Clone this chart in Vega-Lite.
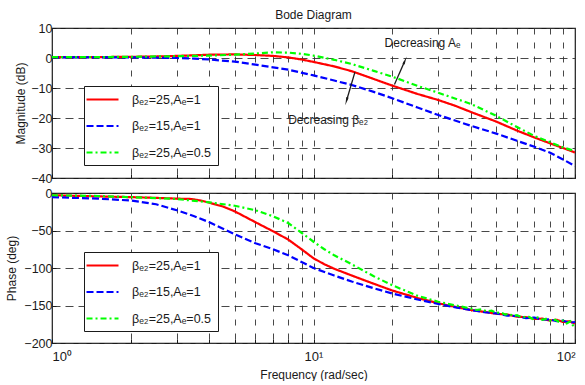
{
  "$schema": "https://vega.github.io/schema/vega-lite/v6.json",
  "padding": {"left": 5, "top": 8, "right": 3, "bottom": 0},
  "background": "white",
  "spacing": 0,
  "config": {
    "font": "Liberation Sans",
    "view": {"stroke": "#1a1a1a", "strokeWidth": 1.2},
    "axis": {"labelFont": "Liberation Sans", "labelFontSize": 12.5, "labelColor": "#1a1a1a", "titleFont": "Liberation Sans", "titleFontSize": 12, "titleFontWeight": "normal", "titleColor": "#1a1a1a", "domain": false, "gridColor": "#333333", "gridWidth": 0.9, "tickColor": "#1a1a1a", "tickSize": -4, "labelPadding": 4, "labelOverlap": false},
    "axisX": {"gridDash": [6, 8]},
    "axisY": {"gridDash": [8, 5]},
    "legend": {"orient": "none", "strokeColor": "#1a1a1a", "fillColor": "white", "padding": 6, "labelFont": "Liberation Sans", "labelFontSize": 12.5, "labelColor": "#1a1a1a", "symbolType": "M-1.83,0H3.5", "symbolSize": 144, "symbolStrokeWidth": 2.2, "labelOffset": 27, "rowPadding": 12.5}
  },
  "datasets": {
    "mag": [
      {"f": 1, "db": 0.3, "s": "βₑ₂=25,Aₑ=1"}, {"f": 1.5, "db": 0.3, "s": "βₑ₂=25,Aₑ=1"}, {"f": 2, "db": 0.4, "s": "βₑ₂=25,Aₑ=1"}, {"f": 2.5, "db": 0.5, "s": "βₑ₂=25,Aₑ=1"}, {"f": 3, "db": 0.7, "s": "βₑ₂=25,Aₑ=1"}, {"f": 3.5, "db": 0.9, "s": "βₑ₂=25,Aₑ=1"}, {"f": 4, "db": 1.1, "s": "βₑ₂=25,Aₑ=1"}, {"f": 5, "db": 1.2, "s": "βₑ₂=25,Aₑ=1"}, {"f": 6, "db": 1.0, "s": "βₑ₂=25,Aₑ=1"}, {"f": 7, "db": 0.7, "s": "βₑ₂=25,Aₑ=1"}, {"f": 8, "db": 0.2, "s": "βₑ₂=25,Aₑ=1"}, {"f": 9, "db": -0.5, "s": "βₑ₂=25,Aₑ=1"}, {"f": 10, "db": -1.3, "s": "βₑ₂=25,Aₑ=1"}, {"f": 12, "db": -2.8, "s": "βₑ₂=25,Aₑ=1"}, {"f": 14, "db": -4.4, "s": "βₑ₂=25,Aₑ=1"}, {"f": 17, "db": -7, "s": "βₑ₂=25,Aₑ=1"}, {"f": 20, "db": -9.2, "s": "βₑ₂=25,Aₑ=1"}, {"f": 25, "db": -12, "s": "βₑ₂=25,Aₑ=1"}, {"f": 30, "db": -14, "s": "βₑ₂=25,Aₑ=1"}, {"f": 35, "db": -16, "s": "βₑ₂=25,Aₑ=1"}, {"f": 40, "db": -18, "s": "βₑ₂=25,Aₑ=1"}, {"f": 50, "db": -21.2, "s": "βₑ₂=25,Aₑ=1"}, {"f": 60, "db": -24.2, "s": "βₑ₂=25,Aₑ=1"}, {"f": 70, "db": -26.5, "s": "βₑ₂=25,Aₑ=1"}, {"f": 80, "db": -28.4, "s": "βₑ₂=25,Aₑ=1"}, {"f": 90, "db": -30, "s": "βₑ₂=25,Aₑ=1"}, {"f": 100, "db": -31.5, "s": "βₑ₂=25,Aₑ=1"},
      {"f": 1, "db": 0.2, "s": "βₑ₂=15,Aₑ=1"}, {"f": 1.5, "db": 0.2, "s": "βₑ₂=15,Aₑ=1"}, {"f": 2, "db": 0.2, "s": "βₑ₂=15,Aₑ=1"}, {"f": 2.5, "db": 0.1, "s": "βₑ₂=15,Aₑ=1"}, {"f": 3, "db": 0, "s": "βₑ₂=15,Aₑ=1"}, {"f": 3.5, "db": -0.2, "s": "βₑ₂=15,Aₑ=1"}, {"f": 4, "db": -0.5, "s": "βₑ₂=15,Aₑ=1"}, {"f": 5, "db": -1.2, "s": "βₑ₂=15,Aₑ=1"}, {"f": 6, "db": -2.2, "s": "βₑ₂=15,Aₑ=1"}, {"f": 7, "db": -3.1, "s": "βₑ₂=15,Aₑ=1"}, {"f": 8, "db": -3.9, "s": "βₑ₂=15,Aₑ=1"}, {"f": 10, "db": -5.8, "s": "βₑ₂=15,Aₑ=1"}, {"f": 12, "db": -7.5, "s": "βₑ₂=15,Aₑ=1"}, {"f": 14, "db": -9, "s": "βₑ₂=15,Aₑ=1"}, {"f": 17, "db": -11.3, "s": "βₑ₂=15,Aₑ=1"}, {"f": 20, "db": -13.4, "s": "βₑ₂=15,Aₑ=1"}, {"f": 25, "db": -16.5, "s": "βₑ₂=15,Aₑ=1"}, {"f": 30, "db": -19, "s": "βₑ₂=15,Aₑ=1"}, {"f": 40, "db": -22.6, "s": "βₑ₂=15,Aₑ=1"}, {"f": 50, "db": -25.2, "s": "βₑ₂=15,Aₑ=1"}, {"f": 60, "db": -27.6, "s": "βₑ₂=15,Aₑ=1"}, {"f": 70, "db": -29.6, "s": "βₑ₂=15,Aₑ=1"}, {"f": 80, "db": -31.5, "s": "βₑ₂=15,Aₑ=1"}, {"f": 90, "db": -33.8, "s": "βₑ₂=15,Aₑ=1"}, {"f": 100, "db": -36, "s": "βₑ₂=15,Aₑ=1"},
      {"f": 1, "db": 0.3, "s": "βₑ₂=25,Aₑ=0.5"}, {"f": 1.5, "db": 0.3, "s": "βₑ₂=25,Aₑ=0.5"}, {"f": 2, "db": 0.4, "s": "βₑ₂=25,Aₑ=0.5"}, {"f": 3, "db": 0.6, "s": "βₑ₂=25,Aₑ=0.5"}, {"f": 4, "db": 0.8, "s": "βₑ₂=25,Aₑ=0.5"}, {"f": 5, "db": 1.1, "s": "βₑ₂=25,Aₑ=0.5"}, {"f": 6, "db": 1.5, "s": "βₑ₂=25,Aₑ=0.5"}, {"f": 7, "db": 1.9, "s": "βₑ₂=25,Aₑ=0.5"}, {"f": 8, "db": 1.8, "s": "βₑ₂=25,Aₑ=0.5"}, {"f": 9, "db": 1.4, "s": "βₑ₂=25,Aₑ=0.5"}, {"f": 10, "db": 0.8, "s": "βₑ₂=25,Aₑ=0.5"}, {"f": 12, "db": -0.6, "s": "βₑ₂=25,Aₑ=0.5"}, {"f": 14, "db": -2, "s": "βₑ₂=25,Aₑ=0.5"}, {"f": 17, "db": -4.3, "s": "βₑ₂=25,Aₑ=0.5"}, {"f": 20, "db": -6.2, "s": "βₑ₂=25,Aₑ=0.5"}, {"f": 25, "db": -9.3, "s": "βₑ₂=25,Aₑ=0.5"}, {"f": 30, "db": -11.6, "s": "βₑ₂=25,Aₑ=0.5"}, {"f": 40, "db": -15.3, "s": "βₑ₂=25,Aₑ=0.5"}, {"f": 50, "db": -19.3, "s": "βₑ₂=25,Aₑ=0.5"}, {"f": 60, "db": -23, "s": "βₑ₂=25,Aₑ=0.5"}, {"f": 70, "db": -26, "s": "βₑ₂=25,Aₑ=0.5"}, {"f": 80, "db": -28, "s": "βₑ₂=25,Aₑ=0.5"}, {"f": 90, "db": -29.8, "s": "βₑ₂=25,Aₑ=0.5"}, {"f": 100, "db": -31, "s": "βₑ₂=25,Aₑ=0.5"}
    ],
    "phase": [
      {"f": 1, "deg": -3, "s": "βₑ₂=25,Aₑ=1"}, {"f": 1.5, "deg": -4.5, "s": "βₑ₂=25,Aₑ=1"}, {"f": 2, "deg": -5.5, "s": "βₑ₂=25,Aₑ=1"}, {"f": 2.5, "deg": -6.5, "s": "βₑ₂=25,Aₑ=1"}, {"f": 3, "deg": -7.5, "s": "βₑ₂=25,Aₑ=1"}, {"f": 3.4, "deg": -8, "s": "βₑ₂=25,Aₑ=1"}, {"f": 3.7, "deg": -10, "s": "βₑ₂=25,Aₑ=1"}, {"f": 4, "deg": -13, "s": "βₑ₂=25,Aₑ=1"}, {"f": 4.5, "deg": -18, "s": "βₑ₂=25,Aₑ=1"}, {"f": 5, "deg": -24.5, "s": "βₑ₂=25,Aₑ=1"}, {"f": 6, "deg": -39, "s": "βₑ₂=25,Aₑ=1"}, {"f": 7, "deg": -51, "s": "βₑ₂=25,Aₑ=1"}, {"f": 8, "deg": -62, "s": "βₑ₂=25,Aₑ=1"}, {"f": 9, "deg": -75, "s": "βₑ₂=25,Aₑ=1"}, {"f": 10, "deg": -87, "s": "βₑ₂=25,Aₑ=1"}, {"f": 11, "deg": -95, "s": "βₑ₂=25,Aₑ=1"}, {"f": 12, "deg": -101, "s": "βₑ₂=25,Aₑ=1"}, {"f": 14, "deg": -110, "s": "βₑ₂=25,Aₑ=1"}, {"f": 17, "deg": -121, "s": "βₑ₂=25,Aₑ=1"}, {"f": 20, "deg": -130, "s": "βₑ₂=25,Aₑ=1"}, {"f": 25, "deg": -140, "s": "βₑ₂=25,Aₑ=1"}, {"f": 30, "deg": -147, "s": "βₑ₂=25,Aₑ=1"}, {"f": 35, "deg": -152, "s": "βₑ₂=25,Aₑ=1"}, {"f": 40, "deg": -156, "s": "βₑ₂=25,Aₑ=1"}, {"f": 45, "deg": -158.5, "s": "βₑ₂=25,Aₑ=1"}, {"f": 50, "deg": -161, "s": "βₑ₂=25,Aₑ=1"}, {"f": 55, "deg": -162, "s": "βₑ₂=25,Aₑ=1"}, {"f": 60, "deg": -165, "s": "βₑ₂=25,Aₑ=1"}, {"f": 65, "deg": -165.5, "s": "βₑ₂=25,Aₑ=1"}, {"f": 70, "deg": -168, "s": "βₑ₂=25,Aₑ=1"}, {"f": 75, "deg": -167.5, "s": "βₑ₂=25,Aₑ=1"}, {"f": 80, "deg": -170, "s": "βₑ₂=25,Aₑ=1"}, {"f": 85, "deg": -169, "s": "βₑ₂=25,Aₑ=1"}, {"f": 90, "deg": -172, "s": "βₑ₂=25,Aₑ=1"}, {"f": 95, "deg": -171, "s": "βₑ₂=25,Aₑ=1"}, {"f": 100, "deg": -174, "s": "βₑ₂=25,Aₑ=1"},
      {"f": 1, "deg": -5.5, "s": "βₑ₂=15,Aₑ=1"}, {"f": 1.5, "deg": -7.5, "s": "βₑ₂=15,Aₑ=1"}, {"f": 2, "deg": -10, "s": "βₑ₂=15,Aₑ=1"}, {"f": 2.5, "deg": -15, "s": "βₑ₂=15,Aₑ=1"}, {"f": 3, "deg": -23, "s": "βₑ₂=15,Aₑ=1"}, {"f": 3.5, "deg": -31, "s": "βₑ₂=15,Aₑ=1"}, {"f": 4, "deg": -39, "s": "βₑ₂=15,Aₑ=1"}, {"f": 5, "deg": -55, "s": "βₑ₂=15,Aₑ=1"}, {"f": 6, "deg": -67, "s": "βₑ₂=15,Aₑ=1"}, {"f": 7, "deg": -75, "s": "βₑ₂=15,Aₑ=1"}, {"f": 8, "deg": -83, "s": "βₑ₂=15,Aₑ=1"}, {"f": 9, "deg": -92, "s": "βₑ₂=15,Aₑ=1"}, {"f": 10, "deg": -100, "s": "βₑ₂=15,Aₑ=1"}, {"f": 12, "deg": -110, "s": "βₑ₂=15,Aₑ=1"}, {"f": 14, "deg": -118, "s": "βₑ₂=15,Aₑ=1"}, {"f": 17, "deg": -127, "s": "βₑ₂=15,Aₑ=1"}, {"f": 20, "deg": -134, "s": "βₑ₂=15,Aₑ=1"}, {"f": 25, "deg": -142, "s": "βₑ₂=15,Aₑ=1"}, {"f": 30, "deg": -148, "s": "βₑ₂=15,Aₑ=1"}, {"f": 35, "deg": -152.5, "s": "βₑ₂=15,Aₑ=1"}, {"f": 40, "deg": -156, "s": "βₑ₂=15,Aₑ=1"}, {"f": 45, "deg": -159, "s": "βₑ₂=15,Aₑ=1"}, {"f": 50, "deg": -160.5, "s": "βₑ₂=15,Aₑ=1"}, {"f": 55, "deg": -163.5, "s": "βₑ₂=15,Aₑ=1"}, {"f": 60, "deg": -164, "s": "βₑ₂=15,Aₑ=1"}, {"f": 65, "deg": -167, "s": "βₑ₂=15,Aₑ=1"}, {"f": 70, "deg": -166, "s": "βₑ₂=15,Aₑ=1"}, {"f": 75, "deg": -169, "s": "βₑ₂=15,Aₑ=1"}, {"f": 80, "deg": -168.5, "s": "βₑ₂=15,Aₑ=1"}, {"f": 85, "deg": -171, "s": "βₑ₂=15,Aₑ=1"}, {"f": 90, "deg": -170, "s": "βₑ₂=15,Aₑ=1"}, {"f": 95, "deg": -173, "s": "βₑ₂=15,Aₑ=1"}, {"f": 100, "deg": -172, "s": "βₑ₂=15,Aₑ=1"},
      {"f": 1, "deg": -3, "s": "βₑ₂=25,Aₑ=0.5"}, {"f": 1.5, "deg": -4, "s": "βₑ₂=25,Aₑ=0.5"}, {"f": 2, "deg": -5.5, "s": "βₑ₂=25,Aₑ=0.5"}, {"f": 3, "deg": -8, "s": "βₑ₂=25,Aₑ=0.5"}, {"f": 4, "deg": -12.5, "s": "βₑ₂=25,Aₑ=0.5"}, {"f": 5, "deg": -17, "s": "βₑ₂=25,Aₑ=0.5"}, {"f": 6, "deg": -23, "s": "βₑ₂=25,Aₑ=0.5"}, {"f": 7, "deg": -31, "s": "βₑ₂=25,Aₑ=0.5"}, {"f": 8, "deg": -40, "s": "βₑ₂=25,Aₑ=0.5"}, {"f": 9, "deg": -53, "s": "βₑ₂=25,Aₑ=0.5"}, {"f": 10, "deg": -65, "s": "βₑ₂=25,Aₑ=0.5"}, {"f": 11, "deg": -75, "s": "βₑ₂=25,Aₑ=0.5"}, {"f": 12, "deg": -83, "s": "βₑ₂=25,Aₑ=0.5"}, {"f": 14, "deg": -95, "s": "βₑ₂=25,Aₑ=0.5"}, {"f": 17, "deg": -111, "s": "βₑ₂=25,Aₑ=0.5"}, {"f": 20, "deg": -123, "s": "βₑ₂=25,Aₑ=0.5"}, {"f": 25, "deg": -137, "s": "βₑ₂=25,Aₑ=0.5"}, {"f": 30, "deg": -145, "s": "βₑ₂=25,Aₑ=0.5"}, {"f": 35, "deg": -150, "s": "βₑ₂=25,Aₑ=0.5"}, {"f": 40, "deg": -154, "s": "βₑ₂=25,Aₑ=0.5"}, {"f": 42, "deg": -156, "s": "βₑ₂=25,Aₑ=0.5"}, {"f": 44, "deg": -155, "s": "βₑ₂=25,Aₑ=0.5"}, {"f": 46, "deg": -158, "s": "βₑ₂=25,Aₑ=0.5"}, {"f": 48, "deg": -157, "s": "βₑ₂=25,Aₑ=0.5"}, {"f": 50, "deg": -160, "s": "βₑ₂=25,Aₑ=0.5"}, {"f": 52, "deg": -159, "s": "βₑ₂=25,Aₑ=0.5"}, {"f": 54, "deg": -162, "s": "βₑ₂=25,Aₑ=0.5"}, {"f": 56, "deg": -161, "s": "βₑ₂=25,Aₑ=0.5"}, {"f": 58, "deg": -164, "s": "βₑ₂=25,Aₑ=0.5"}, {"f": 60, "deg": -163, "s": "βₑ₂=25,Aₑ=0.5"}, {"f": 63, "deg": -166, "s": "βₑ₂=25,Aₑ=0.5"}, {"f": 66, "deg": -164.5, "s": "βₑ₂=25,Aₑ=0.5"}, {"f": 69, "deg": -168, "s": "βₑ₂=25,Aₑ=0.5"}, {"f": 72, "deg": -166, "s": "βₑ₂=25,Aₑ=0.5"}, {"f": 75, "deg": -169, "s": "βₑ₂=25,Aₑ=0.5"}, {"f": 78, "deg": -167.5, "s": "βₑ₂=25,Aₑ=0.5"}, {"f": 81, "deg": -171, "s": "βₑ₂=25,Aₑ=0.5"}, {"f": 84, "deg": -169, "s": "βₑ₂=25,Aₑ=0.5"}, {"f": 87, "deg": -172, "s": "βₑ₂=25,Aₑ=0.5"}, {"f": 90, "deg": -170, "s": "βₑ₂=25,Aₑ=0.5"}, {"f": 93, "deg": -174, "s": "βₑ₂=25,Aₑ=0.5"}, {"f": 96, "deg": -171, "s": "βₑ₂=25,Aₑ=0.5"}, {"f": 98, "deg": -176, "s": "βₑ₂=25,Aₑ=0.5"}, {"f": 100, "deg": -179, "s": "βₑ₂=25,Aₑ=0.5"}
    ],
    "notes": [
      {"f": 18.7, "db": 5, "label": "Decreasing Aₑ"},
      {"f": 8.0, "db": -20.6, "label": "Decreasing βₑ₂"}
    ],
    "arrows": [
      {"id": "b", "f": 14.4, "db": -4.7, "f2": 13.4, "db2": -14.0},
      {"id": "a", "f": 20.4, "db": -8.8, "f2": 22.3, "db2": -1.2}
    ]
  },
  "resolve": {"scale": {"color": "independent", "strokeDash": "independent"}, "legend": {"color": "independent", "strokeDash": "independent"}},
  "vconcat": [
    {
      "width": 523,
      "height": 150,
      "title": {"text": "Bode Diagram", "font": "Liberation Sans", "fontSize": 12, "fontWeight": "normal", "color": "#1a1a1a", "anchor": "middle", "frame": "group", "offset": 0},
      "encoding": {
        "x": {"field": "f", "type": "quantitative", "scale": {"type": "log", "domain": [1, 100], "nice": false}, "axis": {"values": [1, 2, 3, 4, 5, 6, 7, 8, 9, 10, 20, 30, 40, 50, 60, 70, 80, 90, 100], "labels": false, "title": null, "grid": true}},
        "y": {"field": "db", "type": "quantitative", "scale": {"domain": [-40, 10], "nice": false, "zero": false}, "axis": {"values": [-40, -30, -20, -10, 0, 10], "tickCount": 6, "title": "Magnitude (dB)", "grid": true, "titlePadding": 3}}
      },
      "layer": [
        {
          "data": {"name": "mag"},
          "mark": {"type": "line", "strokeWidth": 2.2, "clip": true},
          "encoding": {
            "color": {"field": "s", "type": "nominal", "scale": {"domain": ["βₑ₂=25,Aₑ=1", "βₑ₂=15,Aₑ=1", "βₑ₂=25,Aₑ=0.5"], "range": ["#ff0000", "#0000ff", "#00ff00"]}, "legend": {"title": null, "legendX": 32, "legendY": 58}},
            "strokeDash": {"field": "s", "type": "nominal", "scale": {"domain": ["βₑ₂=25,Aₑ=1", "βₑ₂=15,Aₑ=1", "βₑ₂=25,Aₑ=0.5"], "range": [[1, 0], [7, 3], [6, 3, 2, 3]]}, "legend": {"title": null, "legendX": 32, "legendY": 58}}
          }
        },
        {
          "data": {"name": "notes"},
          "mark": {"type": "text", "align": "left", "baseline": "middle", "font": "Liberation Sans", "fontSize": 12, "color": "#1a1a1a"},
          "encoding": {
            "text": {"field": "label"}
          }
        },
        {
          "data": {"name": "arrows"},
          "mark": {"type": "rule", "color": "#1a1a1a", "strokeWidth": 1.3},
          "encoding": {
            "x2": {"field": "f2"},
            "y2": {"field": "db2"}
          }
        },
        {
          "data": {"name": "arrows"},
          "transform": [{"filter": "datum.id == 'b'"}],
          "mark": {"type": "point", "shape": "wedge", "filled": true, "color": "#1a1a1a", "size": 90, "angle": 196, "opacity": 1},
          "encoding": {
            "x": {"field": "f2", "type": "quantitative", "scale": {"type": "log", "domain": [1, 100], "nice": false}, "axis": {"values": [1, 2, 3, 4, 5, 6, 7, 8, 9, 10, 20, 30, 40, 50, 60, 70, 80, 90, 100], "labels": false, "title": null, "grid": true}},
            "y": {"field": "db2", "type": "quantitative", "scale": {"domain": [-40, 10], "nice": false, "zero": false}, "axis": {"values": [-40, -30, -20, -10, 0, 10], "tickCount": 6, "title": "Magnitude (dB)", "grid": true, "titlePadding": 3}}
          }
        },
        {
          "data": {"name": "arrows"},
          "transform": [{"filter": "datum.id == 'a'"}],
          "mark": {"type": "point", "shape": "wedge", "filled": true, "color": "#1a1a1a", "size": 90, "angle": 23, "opacity": 1},
          "encoding": {
            "x": {"field": "f2", "type": "quantitative", "scale": {"type": "log", "domain": [1, 100], "nice": false}, "axis": {"values": [1, 2, 3, 4, 5, 6, 7, 8, 9, 10, 20, 30, 40, 50, 60, 70, 80, 90, 100], "labels": false, "title": null, "grid": true}},
            "y": {"field": "db2", "type": "quantitative", "scale": {"domain": [-40, 10], "nice": false, "zero": false}, "axis": {"values": [-40, -30, -20, -10, 0, 10], "tickCount": 6, "title": "Magnitude (dB)", "grid": true, "titlePadding": 3}}
          }
        }
      ]
    },
    {
      "width": 523,
      "height": 150,
      "data": {"name": "phase"},
      "mark": {"type": "line", "strokeWidth": 2.2, "clip": true},
      "encoding": {
        "x": {"field": "f", "type": "quantitative", "scale": {"type": "log", "domain": [1, 100], "nice": false}, "axis": {"values": [1, 2, 3, 4, 5, 6, 7, 8, 9, 10, 20, 30, 40, 50, 60, 70, 80, 90, 100], "labelExpr": "datum.value == 1 ? '10⁰' : datum.value == 10 ? '10¹' : datum.value == 100 ? '10²' : ''", "labelFontSize": 13, "labelPadding": 11, "title": "Frequency (rad/sec)", "titlePadding": 6, "grid": true}},
        "y": {"field": "deg", "type": "quantitative", "scale": {"domain": [-200, 0], "nice": false, "zero": false}, "axis": {"values": [-200, -150, -100, -50, 0], "title": "Phase (deg)", "grid": true, "titlePadding": 5}},
        "color": {"field": "s", "type": "nominal", "scale": {"domain": ["βₑ₂=25,Aₑ=1", "βₑ₂=15,Aₑ=1", "βₑ₂=25,Aₑ=0.5"], "range": ["#ff0000", "#0000ff", "#00ff00"]}, "legend": {"title": null, "legendX": 32, "legendY": 59}},
        "strokeDash": {"field": "s", "type": "nominal", "scale": {"domain": ["βₑ₂=25,Aₑ=1", "βₑ₂=15,Aₑ=1", "βₑ₂=25,Aₑ=0.5"], "range": [[1, 0], [7, 3], [6, 3, 2, 3]]}, "legend": {"title": null, "legendX": 32, "legendY": 59}}
      }
    }
  ]
}
